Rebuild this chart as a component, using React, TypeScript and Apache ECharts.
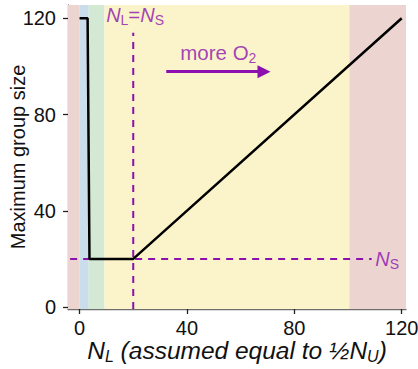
import React, { useEffect, useRef } from "react";
import * as echarts from "echarts";

// ---- data ----
const xTicks = [0, 40, 80, 120];
const yTicks = [0, 40, 80, 120];
const xRange = [-4.3, 121.6];
const yRange = [-0.8, 125.5];
// regime bands along N_L: edges and colours
const bandEdges = [-4.3, 0, 3.4, 9.3, 100.5, 121.6];
const bandColors = ["#ecd4d1", "#c9ddeb", "#d3e9d3", "#fbf3c9", "#ecd4d1"];
// maximum group size curve
const maxGroupX = [0, 3, 3.7, 20, 120];
const maxGroupY = [120, 120, 20, 20, 120];
// N_S threshold
const nS = 20;
const nSLineX = [-3.5, 108.8];
const nLeqNsX = 20;
const nLeqNsTop = 114;
// "more O2" arrow
const arrowX = [32.3, 68.7];
const arrowY = 97.8;

const PURPLE = "#8c10b0";
const FONT = "'Liberation Sans', Arial, Helvetica, sans-serif";

export default function App() {
  const ref = useRef<HTMLDivElement>(null);
  useEffect(() => {
    if (!ref.current) return;
    const chart = echarts.init(ref.current, undefined, { renderer: "svg" });
    const markAreaData = bandColors.map((c, i) => [
      { xAxis: bandEdges[i], itemStyle: { color: c } },
      { xAxis: bandEdges[i + 1] },
    ]);
    const option: any = {
      animation: false,
      textStyle: { fontFamily: FONT },
      grid: { left: 68, right: 12, top: 5, bottom: 60, containLabel: false, outerBoundsMode: "none" },
      xAxis: {
        type: "value",
        min: xRange[0],
        max: xRange[1],
        splitLine: { show: false },
        axisLine: { onZero: false, lineStyle: { color: "#6e6e6e", width: 1.3 } },
        axisTick: { customValues: xTicks, length: 5, lineStyle: { color: "#222", width: 1.3 } },
        axisLabel: {
          customValues: xTicks,
          fontSize: 20,
          color: "#111",
          margin: 9,
          fontFamily: FONT,
        },
        name: "{n|N}{s|L}{n| (assumed equal to ½N}{s|U}{n|)}",
        nameLocation: "middle",
        nameGap: 28,
        nameMoveOverlap: false,
        nameTextStyle: {
          rich: {
            n: { fontSize: 24.5, fontStyle: "italic", color: "#111", fontFamily: FONT },
            s: { fontSize: 16, fontStyle: "italic", color: "#111", fontFamily: FONT, padding: [11, 0, 0, 0] },
          },
        },
      },
      yAxis: {
        type: "value",
        min: yRange[0],
        max: yRange[1],
        splitLine: { show: false },
        axisLine: { show: true, onZero: false, lineStyle: { color: "#6e6e6e", width: 1.3 } },
        axisTick: { show: true, customValues: yTicks, length: 5, lineStyle: { color: "#222", width: 1.3 } },
        axisLabel: {
          customValues: yTicks,
          fontSize: 20,
          color: "#111",
          margin: 12,
          fontFamily: FONT,
        },
        name: "Maximum group size",
        nameLocation: "middle",
        nameGap: 40,
        nameMoveOverlap: false,
        nameTextStyle: { fontSize: 20, color: "#111", fontFamily: FONT },
      },
      series: [
        {
          type: "line",
          data: [],
          silent: true,
          z: 0,
          markArea: { silent: true, data: markAreaData },
        },
        {
          type: "line",
          data: maxGroupX.map((x, i) => [x, maxGroupY[i]]),
          showSymbol: false,
          symbol: "none",
          lineStyle: { color: "#000", width: 2.5 },
          z: 5,
          silent: true,
        },
        {
          type: "line",
          data: nSLineX.map((x) => [x, nS]),
          symbol: "none",
          lineStyle: { color: PURPLE, width: 2, type: [7, 6] },
          z: 4,
          silent: true,
        },
        {
          type: "line",
          data: [
            [nLeqNsX, yRange[0]],
            [nLeqNsX, nLeqNsTop],
          ],
          symbol: "none",
          lineStyle: { color: PURPLE, width: 2, type: [7, 6] },
          z: 4,
          silent: true,
        },
        {
          type: "scatter",
          silent: true,
          symbolSize: 1,
          itemStyle: { color: "rgba(0,0,0,0)" },
          z: 6,
          data: [
            { value: [20.7, 121.4], label: { formatter: "{n|N}{s|L}{t|=}{n|N}{s|S}" } },
            { value: [51.7, 105.6], label: { formatter: "{t|more O}{s|2}" } },
            { value: [114.6, 20], label: { formatter: "{n|N}{s|S}" } },
          ],
          label: {
            show: true,
            position: "inside",
            rich: {
              n: { fontSize: 20, fontStyle: "italic", color: PURPLE, fontFamily: FONT },
              t: { fontSize: 20.5, color: PURPLE, fontFamily: FONT },
              s: { fontSize: 14, color: PURPLE, fontFamily: FONT, padding: [10, 0, 0, 0] },
            },
          },
          markLine: {
            silent: true,
            symbol: ["none", "triangle"],
            symbolSize: [13, 13],
            label: { show: false },
            lineStyle: { color: PURPLE, width: 3, type: "solid" },
            data: [
              [
                { coord: [arrowX[0], arrowY] },
                { coord: [arrowX[1], arrowY] },
              ],
            ],
          },
        },
      ],
    };
    chart.setOption(option);
    return () => chart.dispose();
  }, []);
  return (
    <div
      ref={ref}
      style={{ position: "fixed", left: 0, top: 0, width: 418, height: 369, background: "#fff" }}
    />
  );
}
